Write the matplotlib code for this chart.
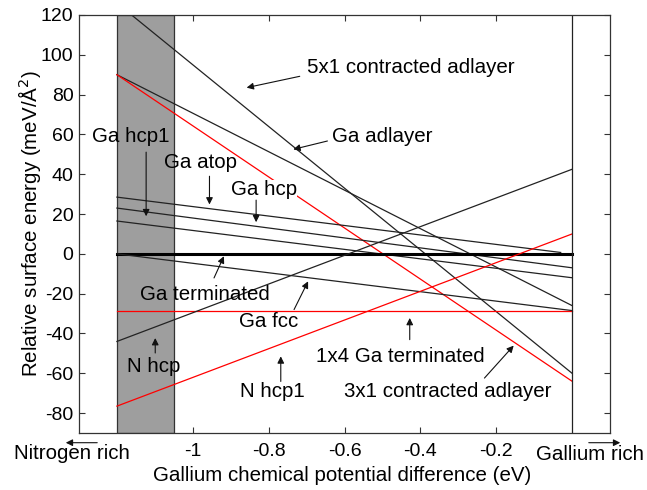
import numpy as np
import matplotlib
matplotlib.use('Agg')
import matplotlib.pyplot as plt

plt.rcParams['font.family'] = ['Liberation Sans', 'DejaVu Sans']

# surface phases: energy at mu = -1.2 eV and at the end of the line
names = ['5x1 contracted adlayer', 'Ga adlayer', '3x1 contracted adlayer', 'Ga atop',
         'Ga hcp', 'Ga hcp1', 'Ga terminated', 'Ga fcc', '1x4 Ga terminated',
         'N hcp', 'N hcp1']
x_start = [-1.2] * 11
x_end = [0, 0, 0, -0.03, 0, 0, 0, 0, 0, 0, 0]
e_start = [126, 90, 90, 28.5, 23, 16.5, 0, 0, -28.5, -44, -76.5]
e_end = [-60, -26, -64, 0.7, -7, -12, 0, -28.5, -28.5, 42.5, 10]
colors = ['#222222', '#222222', 'red', '#222222', '#222222', '#222222', 'black',
          '#222222', 'red', '#222222', 'red']

# stable region and tick values
region = [-1.2, -1.05]
xticks = [-1, -0.8, -0.6, -0.4, -0.2]
yticks = np.arange(-80, 121, 20)

# labels: text, text position, arrow start, arrow tip
labels = [
    ('5x1 contracted adlayer', (-0.699, 93.6), (-0.718, 89.2), (-0.858, 83.5)),
    ('Ga adlayer', (-0.634, 59.2), (-0.645, 56.7), (-0.735, 52.5)),
    ('Ga hcp1', (-1.266, 59.2), (-1.123, 51.1), (-1.123, 18.9)),
    ('Ga atop', (-1.075, 45.8), (-0.956, 39.0), (-0.956, 24.8)),
    ('Ga hcp', (-0.899, 32.4), (-0.833, 27.0), (-0.833, 15.9)),
    ('Ga terminated', (-1.139, -20.5), (-0.944, -12.1), (-0.918, -1.2)),
    ('Ga fcc', (-0.877, -33.9), (-0.733, -28.0), (-0.696, -13.8)),
    ('N hcp', (-1.174, -56.5), (-1.099, -49.8), (-1.099, -42.3)),
    ('N hcp1', (-0.875, -69.1), (-0.768, -64.1), (-0.768, -51.5)),
    ('1x4 Ga terminated', (-0.674, -51.5), (-0.428, -43.1), (-0.428, -32.2)),
    ('3x1 contracted adlayer', (-0.601, -69.1), (-0.231, -62.4), (-0.154, -46.1)),
]

fs = 14.8

fig = plt.figure(figsize=(6.47, 4.90), dpi=100)
ax = fig.add_axes([79 / 647, 1 - 433 / 490, 531 / 647, 418 / 490])

ax.axvspan(region[0], region[1], facecolor='#9e9e9e', edgecolor='#333333', lw=0.9, zorder=1)

for i in range(len(names)):
    lw = 2.2 if names[i] == 'Ga terminated' else 0.9
    ax.plot([x_start[i], x_end[i]], [e_start[i], e_end[i]], color=colors[i], lw=lw, zorder=2)

ax.axvline(0, color='#222222', lw=0.9, zorder=2)

for text, pos, start, tip in labels:
    box = dict(facecolor='white', edgecolor='none', pad=0) if text == 'Ga hcp' else None
    ax.text(pos[0], pos[1], text, fontsize=fs, ha='left', va='center', bbox=box, zorder=4)
    ax.annotate('', xy=tip, xytext=start,
                arrowprops=dict(arrowstyle='-|>', color='#111111', lw=0.8,
                                mutation_scale=10, shrinkA=0, shrinkB=0), zorder=4)

ax.set_xlim(-1.3, 0.1)
ax.set_ylim(-90, 120)
ax.set_xticks(xticks)
ax.set_xticklabels(['-1', '-0.8', '-0.6', '-0.4', '-0.2'])
ax.set_yticks(yticks)
ax.set_yticklabels([str(v) for v in yticks])
ax.tick_params(direction='in', top=True, right=True, length=4, width=0.8,
               labelsize=14, color='#333333')
ax.tick_params(axis='x', pad=7)
ax.tick_params(axis='y', pad=4)
for s in ax.spines.values():
    s.set_color('#333333')
    s.set_linewidth(0.9)

ax.set_xlabel('Gallium chemical potential difference (eV)', fontsize=fs, va='center')
ax.set_ylabel('Relative surface energy (meV/Å$^2$)', fontsize=fs, va='center')
ax.xaxis.set_label_coords((341.7 - 79) / 531, (433 - 475) / 418)
ax.yaxis.set_label_coords((30 - 79) / 531, 0.5)

# rich / poor markers under the axis
fig.text(14 / 647, 1 - 453 / 490, 'Nitrogen rich', fontsize=fs, ha='left', va='center')
fig.text(536 / 647, 1 - 454 / 490, 'Gallium rich', fontsize=fs, ha='left', va='center')
fig.add_artist(matplotlib.patches.FancyArrowPatch((100 / 647, 1 - 442.7 / 490), (63 / 647, 1 - 442.7 / 490),
               transform=fig.transFigure, arrowstyle='-|>', mutation_scale=10, color='#111111', lw=0.8))
fig.add_artist(matplotlib.patches.FancyArrowPatch((586 / 647, 1 - 442.7 / 490), (623 / 647, 1 - 442.7 / 490),
               transform=fig.transFigure, arrowstyle='-|>', mutation_scale=10, color='#111111', lw=0.8))

fig.savefig('out.png', dpi=100, facecolor='white')
